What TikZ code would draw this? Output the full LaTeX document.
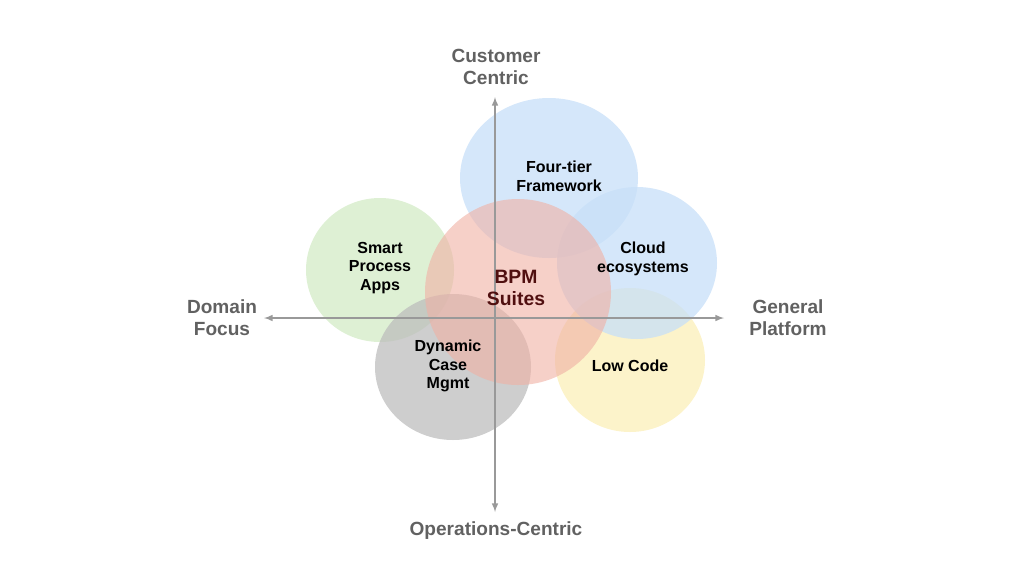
\documentclass[tikz,border=0pt]{standalone}
\usepackage{fontspec}
\setmainfont{Liberation Sans}
\begin{document}
\begin{tikzpicture}[x=0.75pt,y=-0.75pt,
 blob/.style={draw=none,fill opacity=0.75},
 lbl/.style={font=\bfseries\fontsize{12}{14}\selectfont,align=center,text=black},
 ax/.style={font=\bfseries\fontsize{14.3}{16.5}\selectfont,align=center,text=black!62},
 axl/.style={draw=black!40,line width=1.2pt,<->,>=latex}]
\useasboundingbox (0,0) rectangle (1024,576);
\definecolor{cb}{HTML}{C7DFF8}\definecolor{cg}{HTML}{D3EBC6}
\definecolor{cr}{HTML}{F0B0A4}\definecolor{cgr}{HTML}{BDBDBD}\definecolor{cy}{HTML}{FBEFB8}
\fill[blob,cb] (549,178) ellipse[x radius=89,y radius=80];
\fill[blob,cg] (380,270) ellipse[x radius=74,y radius=72];
\fill[blob,cy] (630,360) ellipse[x radius=75,y radius=72];
\fill[blob,cb] (637,263) ellipse[x radius=80,y radius=76];
\fill[blob,cgr] (453,367) ellipse[x radius=78,y radius=73];
\fill[blob,cr,fill opacity=0.6] (518,292) ellipse[x radius=93,y radius=93];
\coordinate (t) at (495,97); \coordinate (b) at (495,512);
\coordinate (l) at (264,318); \coordinate (r) at (724,318);
\draw[axl] (t) -- (b); \draw[axl] (l) -- (r);
\node[ax] (n1) at (496,67) {Customer\\Centric};
\node[ax] (n2) at (496,531) {Operations-Centric};
\node[ax] (n3) at (222,318) {Domain\\Focus};
\node[ax] (n4) at (788,318) {General\\Platform};
\node[lbl] (a) at (559,176) {Four-tier\\Framework};
\node[lbl] (b2) at (380,268) {Smart\\Process\\Apps};
\node[lbl] (c) at (643,259) {Cloud\\ecosystems};
\node[lbl,font=\bfseries\fontsize{14.5}{17}\selectfont,text={rgb,255:red,80;green,15;blue,15}] (d) at (516,288) {BPM\\Suites};
\node[lbl] (e) at (448,366) {Dynamic\\Case\\Mgmt};
\node[lbl] (f) at (630,366) {Low Code};
\end{tikzpicture}
\end{document}
